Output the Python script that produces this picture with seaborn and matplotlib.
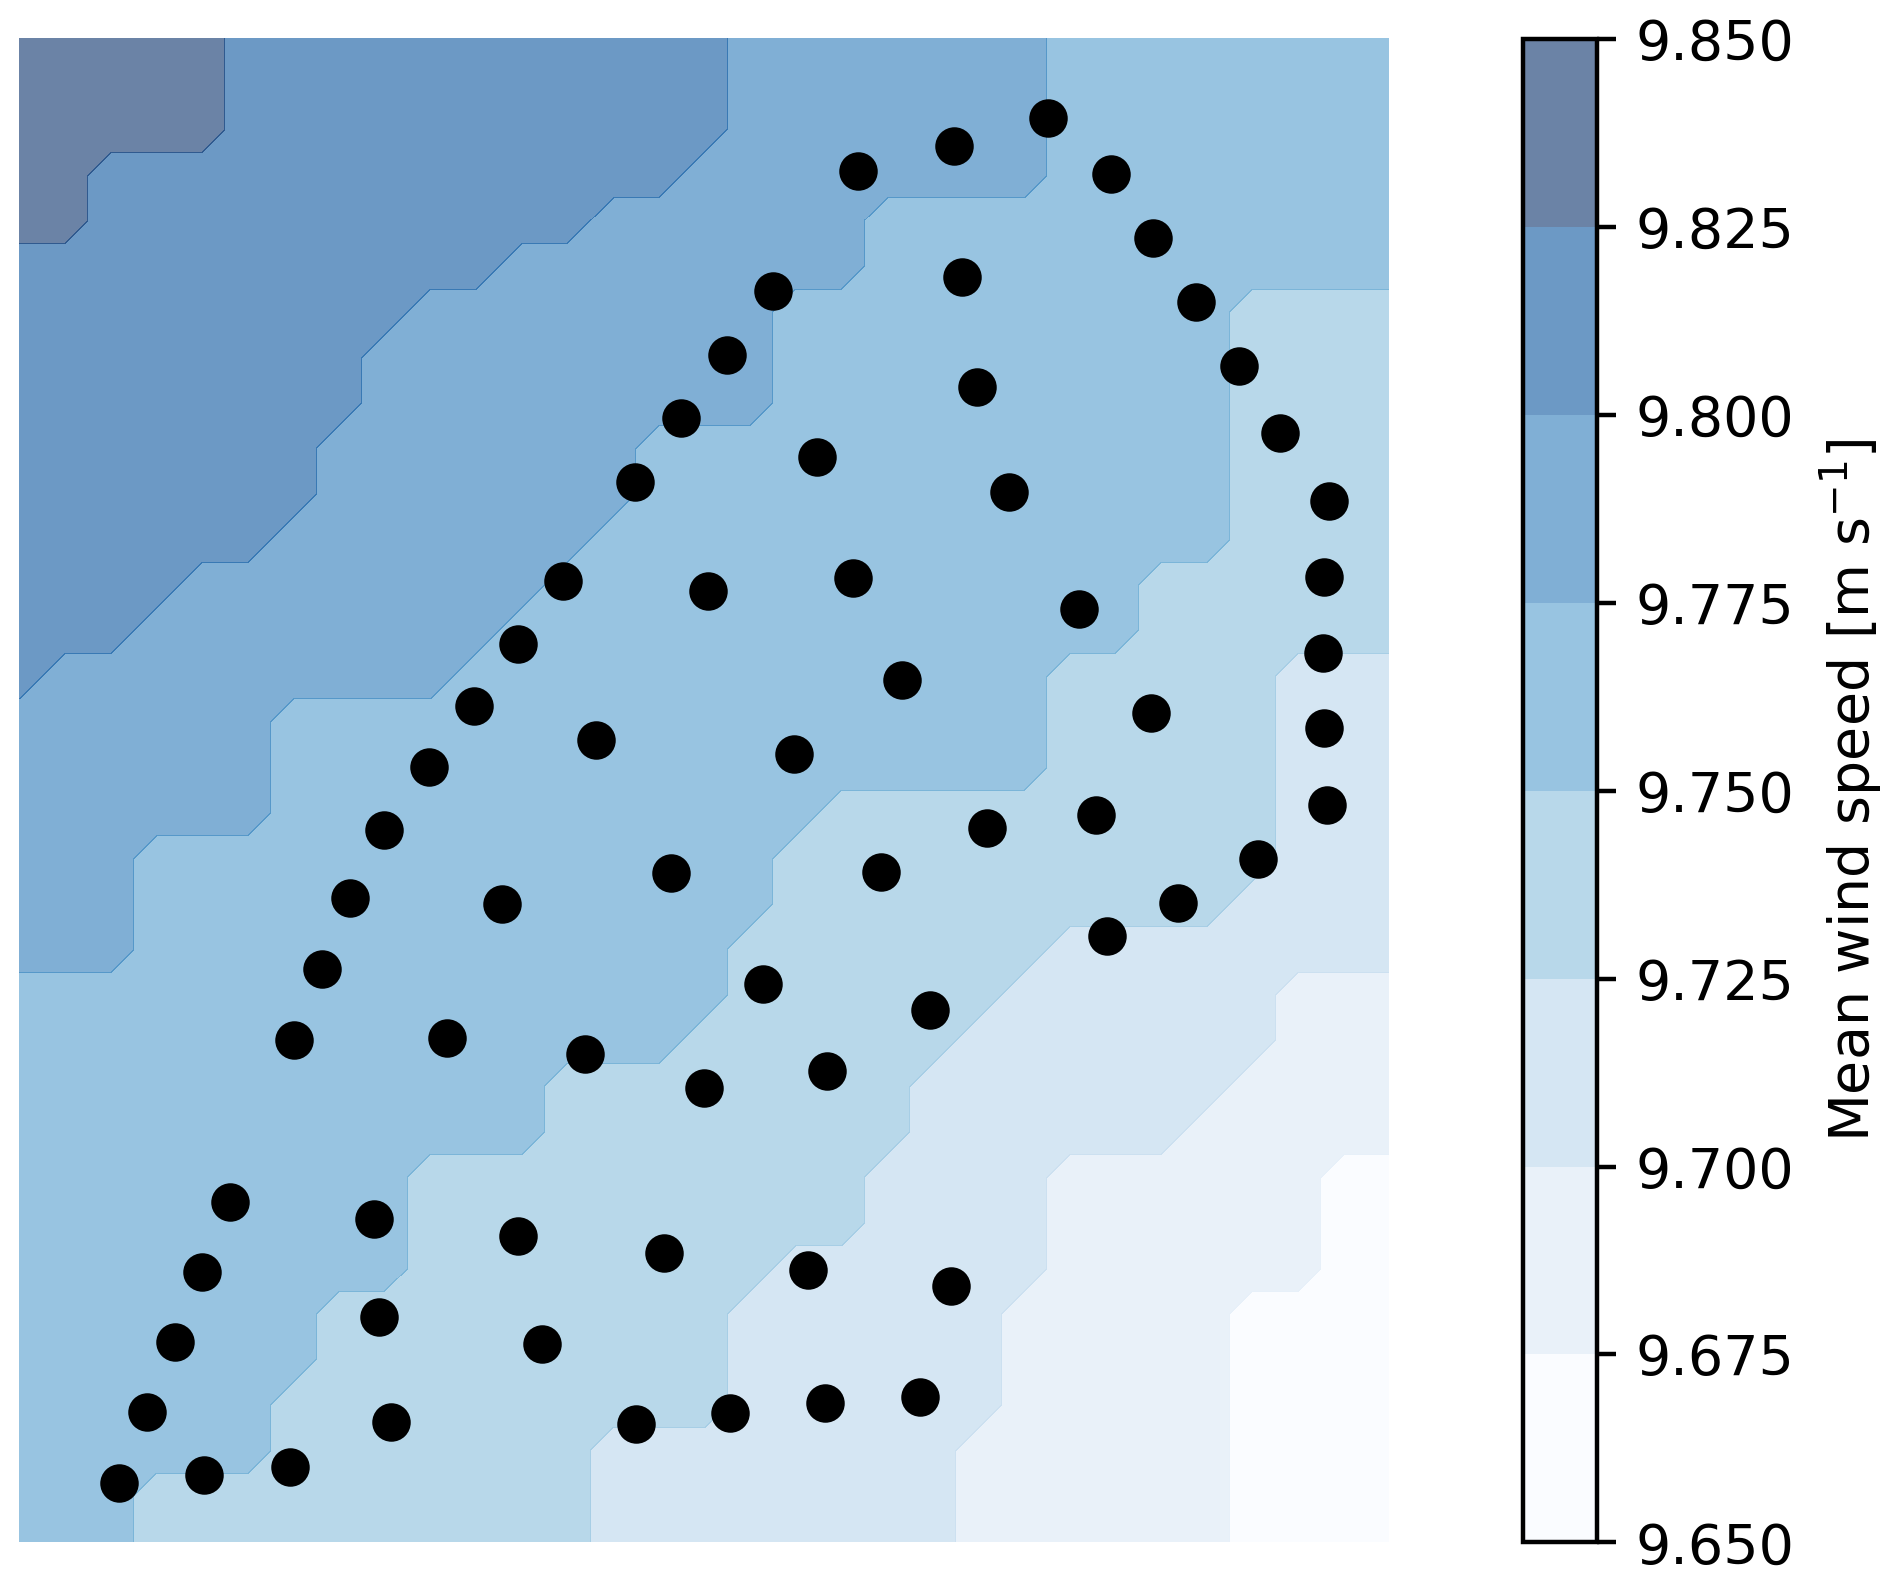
import numpy as np
import matplotlib
matplotlib.use("Agg")
import matplotlib.pyplot as plt
from matplotlib.ticker import FormatStrFormatter
import seaborn as sns

# domain size (same units as the turbine positions below)
domain_w = 1370
domain_h = 1503

# contour levels of the mean wind speed [m/s]
levels = [9.650, 9.675, 9.700, 9.725, 9.750, 9.775, 9.800, 9.825, 9.850]

# speed band per grid node, first row = top edge
# 0 -> 9.650-9.675 ... 7 -> 9.825-9.850
speed_bins = [
    "77777" "66666666666" "5555555" "44444444",
    "77777" "66666666666" "5555555" "44444444",
    "77777" "66666666666" "5555555" "44444444",
    "77" "6666666666666" "55555555" "44444444",
    "77" "66666666666" "555555" "444444444444",
    "66666666666" "55555555" "444444444444",
    "666666666" "55555555" "4444444444" "3333",
    "66666666" "555555555" "4444444444" "3333",
    "66666666" "555555555" "4444444444" "3333",
    "6666666" "5555555" "4444444444444" "3333",
    "6666666" "5555555" "4444444444444" "3333",
    "666666" "5555555" "44444444444444" "3333",
    "6666" "55555555" "4444444444444" "333333",
    "666" "55555555" "44444444444444" "333333",
    "6" "555555555" "4444444444444" "33333" "222",
    "555555" "44444444444444444" "33333" "222",
    "555555" "44444444444444444" "33333" "222",
    "555555" "444444444444" "3333333333" "222",
    "555" "44444444444444" "33333333333" "222",
    "555" "44444444444444" "3333333333" "2222",
    "555" "4444444444444" "3333333" "22222222",
    "4444444444444444" "333333" "222222" "111",
    "444444444444444" "333333" "2222222" "111",
    "444444444444" "33333333" "2222222" "1111",
    "444444444444" "33333333" "222222" "11111",
    "444444444" "3333333333" "2222" "111111" "00",
    "444444444" "3333333333" "2222" "111111" "00",
    "444444444" "33333333" "222222" "111111" "00",
    "4444444" "333333333" "222222" "11111" "0000",
    "4444444" "333333333" "222222" "11111" "0000",
    "444444" "3333333333" "222222" "11111" "0000",
    "444444" "3333333" "22222222" "111111" "0000",
    "444" "3333333333" "22222222" "111111" "0000",
    "444" "3333333333" "22222222" "111111" "0000",
]

# turbine positions
turbine_x = [662, 616, 544, 689, 499, 455, 577, 410, 839, 935, 1029, 1092, 1134,
             1177, 1220, 1261, 1310, 1305, 1304, 1305, 1308, 943, 958, 990, 754,
             708, 798, 834, 1060, 883, 1132, 775, 365, 331, 303, 275, 483, 652,
             428, 566, 685, 211, 355, 499, 645, 183, 156, 128, 100, 185, 271, 360,
             523, 372, 617, 1077, 968, 862, 1239, 1159, 1088, 744, 911, 808, 789,
             932, 711, 806, 901]
turbine_y = [1124, 1060, 961, 951, 898, 836, 802, 775, 1370, 1395, 1423, 1367,
             1303, 1240, 1176, 1109, 1041, 965, 889, 814, 737, 1265, 1155, 1050,
             1251, 1187, 1085, 964, 933, 862, 829, 788, 712, 644, 573, 502, 638,
             669, 504, 488, 454, 340, 323, 306, 289, 270, 200, 130, 59, 67, 75,
             225, 198, 120, 118, 727, 714, 670, 683, 639, 606, 558, 532, 471, 272,
             256, 129, 139, 145]

for k, row in enumerate(speed_bins):
    if len(row) != len(speed_bins[0]):
        raise ValueError(f"row {k} has {len(row)} nodes")

band_mid = [(a + b) / 2 for a, b in zip(levels[:-1], levels[1:])]
speed = np.array([[band_mid[int(c)] for c in row] for row in speed_bins])
xg = np.linspace(0, domain_w, speed.shape[1])
yg = np.linspace(domain_h, 0, speed.shape[0])

colors = plt.get_cmap("Blues")(np.linspace(0, 1, len(levels) - 1))

fig = plt.figure(figsize=(4.73, 3.9575), dpi=400)
ax = fig.add_axes([0.0103, 0.0261, 0.7241, 0.9496])
cax = fig.add_axes([0.805, 0.0256, 0.0391, 0.9500])

cs = ax.contourf(xg, yg, speed, levels=levels, colors=colors, alpha=0.6,
                 antialiased=False)
sns.scatterplot(x=turbine_x, y=turbine_y, color="black", edgecolor="black",
                linewidth=0, s=48, ax=ax, legend=False, zorder=3)
ax.set_xlim(0, domain_w)
ax.set_ylim(0, domain_h)
ax.set_axis_off()

cbar = fig.colorbar(cs, cax=cax)
cbar.set_ticks(levels)
cbar.ax.yaxis.set_major_formatter(FormatStrFormatter("%.3f"))
cbar.set_label("Mean wind speed [m s$^{-1}$]")

fig.savefig("out.png", dpi=400)
plt.close(fig)
